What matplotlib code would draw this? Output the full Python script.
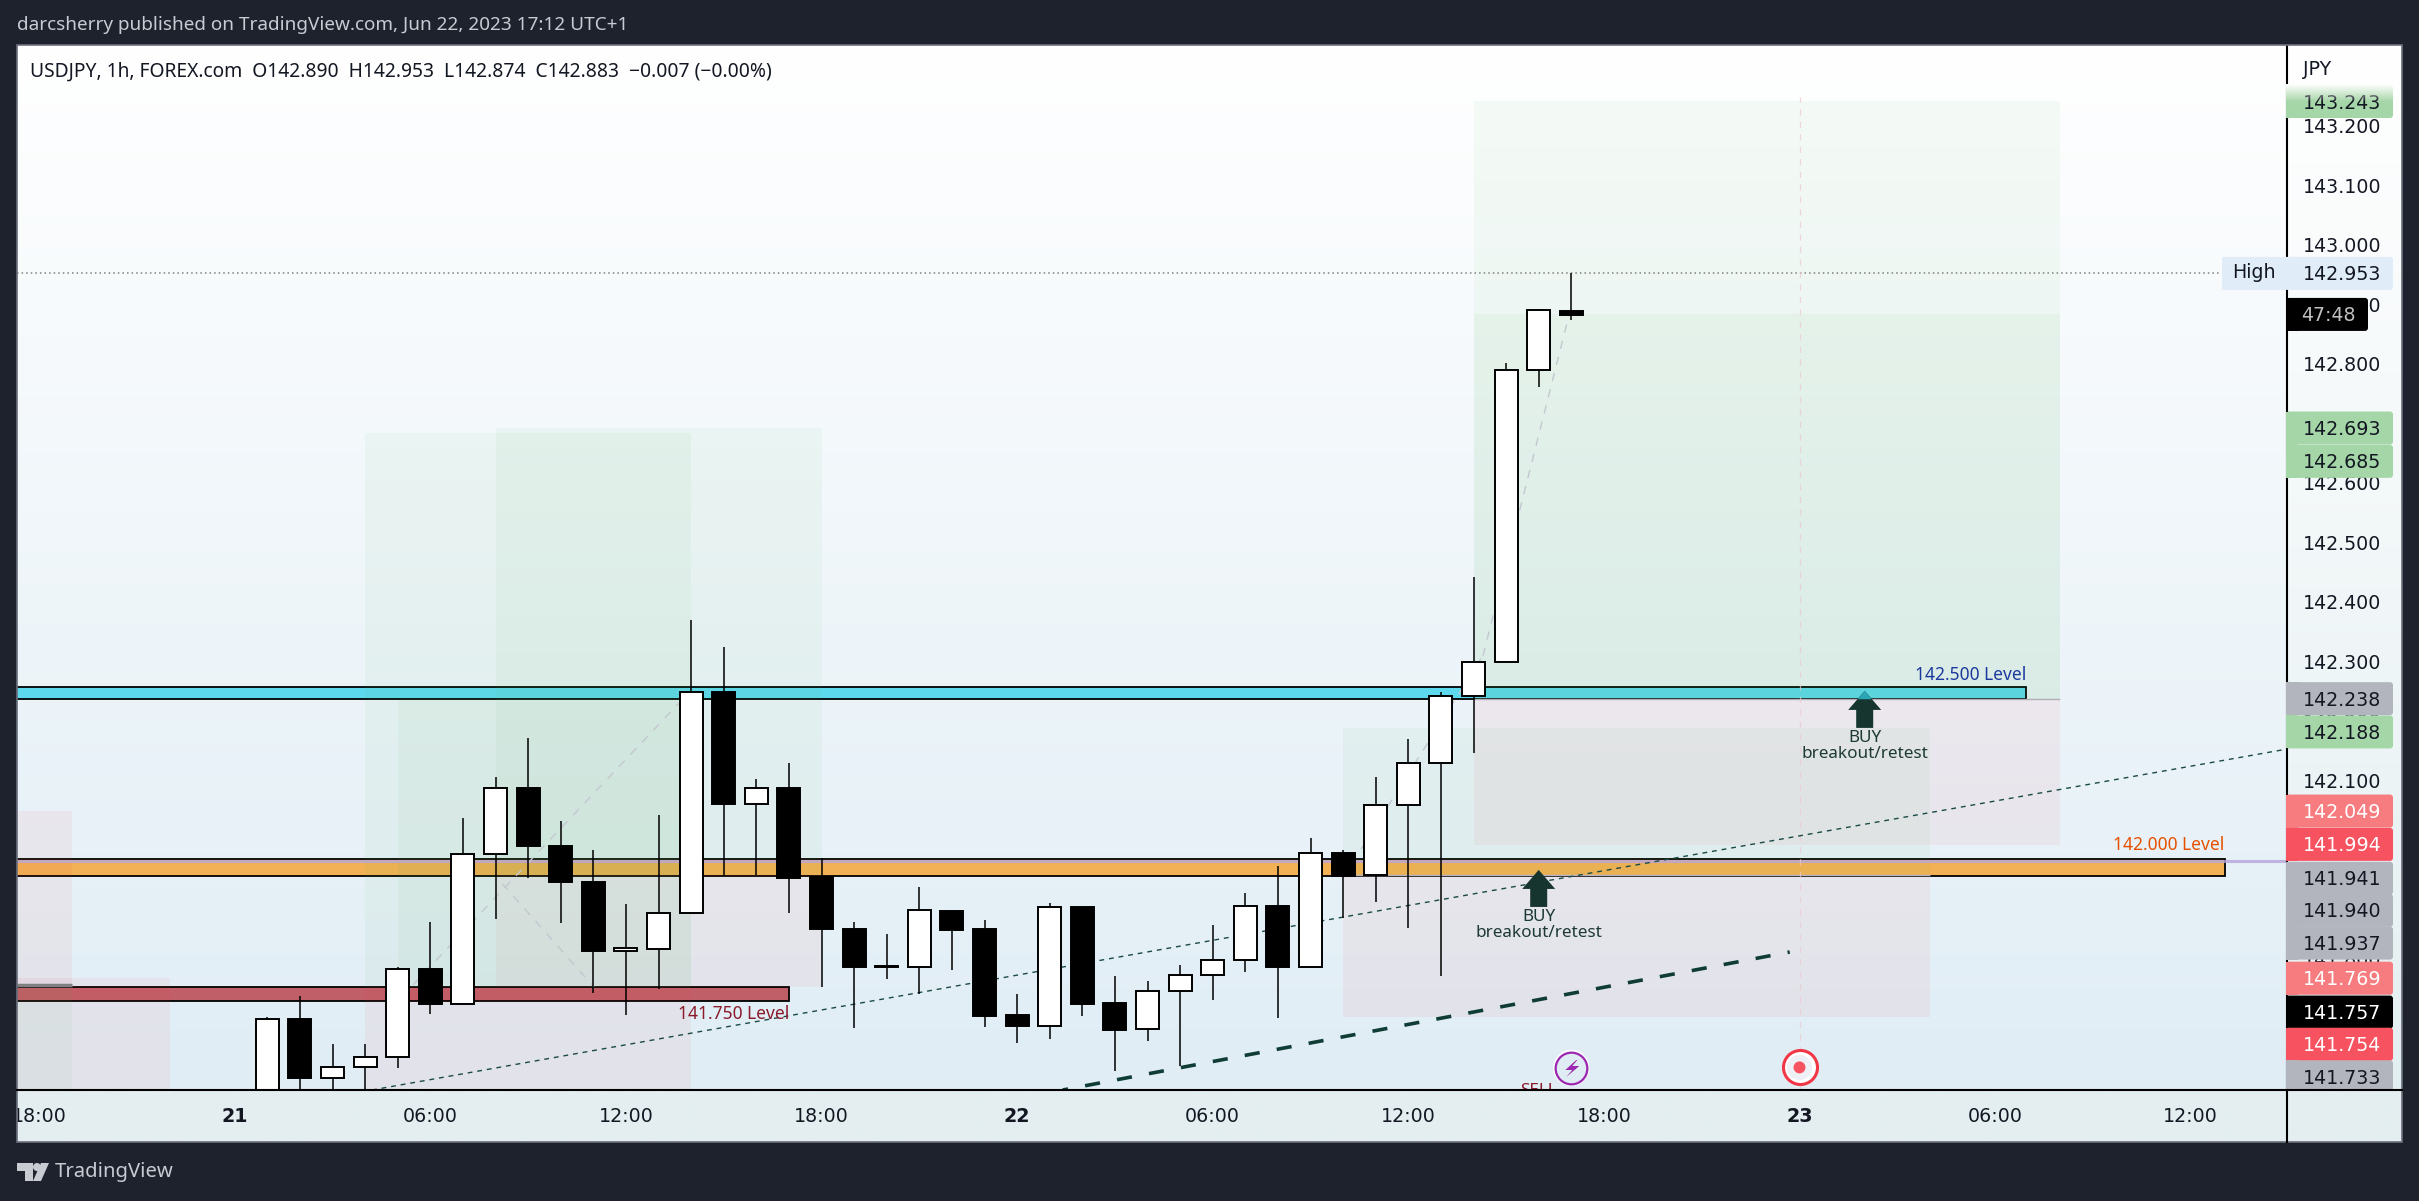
"""
USDJPY 1h chart, TradingView style
"""
import numpy as np
import matplotlib.pyplot as plt
from matplotlib.colors import to_rgb
from matplotlib.patches import Rectangle, Circle, Polygon, FancyBboxPatch

W, H = 2419, 1201
DARK = '#1e222d'
UI_FONT = 'Noto Sans'

# hourly candles, hour 0 = Jun 21 00:00
hours = list(range(1, 42))
opens = [141.546, 141.699, 141.601, 141.619, 141.636, 141.784, 141.725, 141.976, 142.088, 141.991,
         141.929, 141.813, 141.817, 141.878, 142.250, 142.061, 142.088, 141.938, 141.851, 141.788,
         141.786, 141.881, 141.851, 141.706, 141.688, 141.887, 141.726, 141.682, 141.747, 141.774,
         141.798, 141.889, 141.787, 141.978, 141.941, 142.060, 142.129, 142.243, 142.299, 142.791,
         142.890]
highs = [141.703, 141.738, 141.658, 141.658, 141.787, 141.862, 142.038, 142.107, 142.172, 142.032,
         141.983, 141.893, 142.042, 142.371, 142.324, 142.103, 142.130, 141.970, 141.862, 141.843,
         141.921, 141.883, 141.866, 141.741, 141.894, 141.887, 141.771, 141.763, 141.790, 141.857,
         141.911, 141.956, 142.003, 141.983, 142.106, 142.170, 142.249, 142.442, 142.802, 142.893,
         142.953]
lows = [141.502, 141.572, 141.572, 141.572, 141.617, 141.708, 141.725, 141.867, 141.936, 141.860,
        141.743, 141.706, 141.749, 141.878, 141.940, 141.942, 141.877, 141.753, 141.684, 141.767,
        141.742, 141.782, 141.686, 141.659, 141.666, 141.704, 141.612, 141.663, 141.621, 141.731,
        141.779, 141.701, 141.787, 141.869, 141.896, 141.853, 141.772, 142.147, 142.299, 142.762,
        142.874]
closes = [141.699, 141.601, 141.619, 141.636, 141.784, 141.725, 141.976, 142.088, 141.990, 141.929,
          141.813, 141.818, 141.878, 142.250, 142.061, 142.088, 141.937, 141.851, 141.787, 141.786,
          141.882, 141.849, 141.705, 141.688, 141.887, 141.725, 141.681, 141.747, 141.774, 141.798,
          141.889, 141.787, 141.978, 141.940, 142.060, 142.129, 142.243, 142.299, 142.791, 142.891,
          142.883]

time_ticks = [-6, 0, 6, 12, 18, 24, 30, 36, 42, 48, 54, 60]
time_labels = ['18:00', '21', '06:00', '12:00', '18:00', '22', '06:00', '12:00', '18:00', '23', '06:00', '12:00']
day_labels = ['21', '22', '23']

price_ticks = [141.8, 141.9, 142.0, 142.1, 142.2, 142.3, 142.4, 142.5, 142.6, 142.7,
               142.8, 142.9, 143.0, 143.1, 143.2]

# price tags on the axis: text, where the stacked tag sits, colour, text colour
tag_text = ['143.243', '142.693', '142.685', '142.238', '142.188', '142.049', '141.994', '141.941',
            '141.940', '141.937', '141.769', '141.757', '141.754', '141.733']
tag_pos = [143.242, 142.693, 142.637, 142.238, 142.182, 142.049, 141.993, 141.936,
           141.882, 141.827, 141.768, 141.711, 141.657, 141.602]
tag_color = ['#a5d6a7', '#a5d6a7', '#a5d6a7', '#b2b5be', '#a5d6a7', '#f77c80', '#f7525f', '#b2b5be',
             '#b2b5be', '#b2b5be', '#f77c80', '#000000', '#f7525f', '#b2b5be']
tag_txt_color = ['#131722', '#131722', '#131722', '#131722', '#131722', 'white', 'white', '#131722',
                 '#131722', '#131722', 'white', 'white', 'white', '#131722']

# long/short position boxes: t0, t1, top, bottom
green_boxes = [(4, 14, 142.685, 141.753), (8, 18, 142.693, 141.941), (5, 14, 142.238, 141.753),
               (34, 52, 142.188, 141.941), (38, 56, 143.243, 142.238), (38, 56, 142.884, 142.238),
               (-8, -5, 141.757, 141.5)]
red_boxes = [(4, 14, 141.753, 141.4), (8, 18, 141.941, 141.753), (34, 52, 141.941, 141.702),
             (38, 56, 142.238, 141.992), (-8, -5, 142.049, 141.757), (-8, -2, 141.769, 141.5)]

# level bands: end hour, top, bottom, colour, label, label colour
band_end = [54.96, 61.04, 17.0]
band_top = [142.257, 141.968, 141.753]
band_bottom = [142.237, 141.939, 141.730]
band_color = ['#5dd9ee', '#f2b155', '#c05f68']
band_label = ['142.500 Level', '142.000 Level', '141.750 Level']
band_label_color = ['#1c3a9e', '#e65100', '#8b1a2b']
band_label_price = [142.278, 141.992, 141.708]

trend_thin_t = [4.21, 62.93]
trend_thin_p = [141.58, 142.153]
trend_thick_t = [25.4, 47.7]
trend_thick_p = [141.58, 141.812]

zigzag_segments = [([5.47, 13.62], [141.757, 142.23]),
                   ([8.21, 11.02], [141.927, 141.753]),
                   ([34.55, 38.29], [141.985, 142.311]),
                   ([38.29, 40.93], [142.31, 142.883])]

buy_t = [40, 50]
buy_tip = [141.95, 142.251]

YLIM = (141.580, 143.337)
XLIM = (-6.678, 62.954)
PX_T = 32.6      # px per hour
PX_P = 594.8     # px per yen
TXT_SHIFT = 1.5 / PX_P


def add_ax(x0, y0, x1, y1, z=1):
    a = fig.add_axes([x0 / W, 1 - y1 / H, (x1 - x0) / W, (y1 - y0) / H], zorder=z)
    a.set_axis_off()
    return a


def fade(a, top, bottom):
    rgb0 = np.array(to_rgb(top))
    rgb1 = np.array(to_rgb(bottom))
    f = np.linspace(0, 1, 256)[:, None, None]
    a.imshow(rgb0 + (rgb1 - rgb0) * f, extent=[0, 1, 0, 1], aspect='auto', transform=a.transAxes, zorder=0)


fig = plt.figure(figsize=(W / 100, H / 100), dpi=100, facecolor=DARK)

# main pane
ax = add_ax(17, 45, 2287, 1090, 1)
fade(ax, '#ffffff', '#e0edf5')
ax.set_xlim(XLIM)
ax.set_ylim(YLIM)

for t0, t1, top, bot in red_boxes:
    ax.add_patch(Rectangle((t0, bot), t1 - t0, top - bot, fc='#f23645', ec='none', alpha=0.06, zorder=3))
for t0, t1, top, bot in green_boxes:
    ax.add_patch(Rectangle((t0, bot), t1 - t0, top - bot, fc='#4caf50', ec='none', alpha=0.052, zorder=3))

for i in range(3):
    ax.add_patch(Rectangle((XLIM[0] - 1, band_bottom[i]), band_end[i] - XLIM[0] + 1, band_top[i] - band_bottom[i],
                           fc=band_color[i], ec='black', lw=1.3, zorder=2))
    ax.text(band_end[i], band_label_price[i], band_label[i], color=band_label_color[i], family=UI_FONT,
            fontsize=12.5, ha='right', va='center', zorder=6)

ax.hlines(141.965, XLIM[0], XLIM[1], color='#b7a7dc', lw=2.2, alpha=0.8, zorder=3)
ax.hlines(142.238, 38, 56, color='#b2b5be', lw=1, zorder=2)
ax.hlines(141.941, 34, 52, color='#b2b5be', lw=1, zorder=3)
ax.hlines(141.757, XLIM[0], -5, color='#808080', lw=2.5, zorder=3)
ax.hlines(142.953, XLIM[0], 60.9, color='#808080', lw=1.1, linestyles=(0, (1, 2)), zorder=3)
ax.vlines(48, 141.58, 143.25, color='#ecc9d0', lw=0.9, alpha=0.7, linestyles=(0, (5, 5)), zorder=3)

ax.plot(trend_thin_t, trend_thin_p, color='#1a4a45', lw=1.0, ls=(0, (3.5, 3.5)), zorder=4)
ax.plot(trend_thick_t, trend_thick_p, color='#0f3d36', lw=2.6, ls=(2.7, (4.2, 4.8)), zorder=4)
for xs, ys in zigzag_segments:
    ax.plot(xs, ys, color='#c3c7d0', lw=1, ls=(0, (6, 6)), zorder=4)

# arrows
for t, tip in zip(buy_t, buy_tip):
    hw, sw = 16.5 / PX_T, 8.5 / PX_T
    head, stem = 19 / PX_P, 37 / PX_P
    ax.add_patch(Polygon([(t, tip), (t + hw, tip - head), (t + sw, tip - head), (t + sw, tip - stem),
                          (t - sw, tip - stem), (t - sw, tip - head), (t - hw, tip - head)],
                         fc='#16352f', ec='none', zorder=7))
    ax.text(t, tip - 47 / PX_P, 'BUY', color='#1d3a34', family=UI_FONT, fontsize=12.3, ha='center', va='center', zorder=7)
    ax.text(t, tip - 63 / PX_P, 'breakout/retest', color='#1d3a34', family=UI_FONT, fontsize=12.3,
            ha='center', va='center', zorder=7)
ax.add_patch(Polygon([(50, 142.251), (50 + 7 / PX_T, 142.237), (50 - 7 / PX_T, 142.237)], fc='#2aa5b5', ec='none', zorder=8))

# candles
o, h, l, c = map(np.array, (opens, highs, lows, closes))
up = c >= o
hrs = np.array(hours)
ax.vlines(hrs, l, h, color='black', lw=1.1, zorder=5)
ax.bar(hrs, np.abs(c - o), bottom=np.minimum(o, c), width=0.71,
       color=np.where(up, 'white', 'black').tolist(), edgecolor='black', linewidth=1.4, zorder=6)

ax.text(40, 141.578, 'SELL', color='#8b1a2b', family=UI_FONT, fontsize=12.3, ha='center', va='center',
        zorder=7, clip_on=True)

# alert icons
ax.scatter([41], [141.617], s=680, fc='white', ec='none', zorder=8)
ax.scatter([41], [141.617], s=520, fc='#dfecf4', ec='#9c27b0', lw=1.6, zorder=8)
bolt = [(5, -8), (-6, 2), (1, 2), (-5, 9), (8, -2), (1, -2), (6, -8)]
ax.add_patch(Polygon([(41 + dx / PX_T, 141.617 - dy / PX_P) for dx, dy in bolt], fc='#9c27b0', ec='none', zorder=9))
ax.scatter([48], [141.618], s=600, fc='white', ec='#f23645', lw=2.2, zorder=8)
ax.scatter([48], [141.618], s=330, fc='#eff0f6', ec='none', zorder=8)
ax.scatter([48], [141.618], s=74, fc='#f7525f', ec='none', zorder=9)

ax.set_xlim(XLIM)
ax.set_ylim(YLIM)

# time axis
ax_t = add_ax(17, 1090, 2402, 1142, 2)
fade(ax_t, '#e4eef1', '#e4eef0')
ax_t.set_xlim(XLIM[0], 66.48)
ax_t.set_ylim(0, 1)
for t, lab in zip(time_ticks, time_labels):
    ax_t.text(t, 0.5, lab, fontsize=13.7, color='#131722', ha='center', va='center', clip_on=True,
              fontweight='bold' if lab in day_labels else 'normal')

# price axis
ax_bg = add_ax(2287, 45, 2402, 1090, 2)
fade(ax_bg, '#ffffff', '#e4eff1')

ax_p = add_ax(2222, 45, 2402, 1090, 3)
ax_p.axvline(2287, color='black', lw=1.5, zorder=1)
for p in price_ticks:
    ax_p.text(2303, p - TXT_SHIFT, f'{p:.3f}', fontsize=13.7, color='#131722', ha='left', va='center', zorder=2, clip_on=True)
ax_p.text(2303, 143.296, 'JPY', fontsize=13.7, color='#131722', ha='left', va='center', zorder=2)

tag_h = 33 / PX_P


def tag(x, pos, width, col, z=3):
    # square on the left, small round corners on the right
    ax_p.add_patch(FancyBboxPatch((x, pos - tag_h / 2), width, tag_h, boxstyle='round,pad=0,rounding_size=3',
                                  mutation_aspect=1 / PX_P, fc=col, ec='none', zorder=z))
    ax_p.add_patch(Rectangle((x, pos - tag_h / 2), 12, tag_h, fc=col, ec='none', zorder=z))


for txt, pos, col, tc in zip(tag_text, tag_pos, tag_color, tag_txt_color):
    tag(2286, pos, 107, col)
    ax_p.text(2303, pos - TXT_SHIFT, txt, fontsize=13.7, color=tc, ha='left', va='center', zorder=4, clip_on=True)

tag(2222, 142.953, 171, '#e1ecf9')
ax_p.text(2232, 142.955, 'High', fontsize=13.7, color='#131722', ha='left', va='center', zorder=4)
ax_p.text(2303, 142.953 - TXT_SHIFT, '142.953', fontsize=13.7, color='#131722', ha='left', va='center', zorder=4)
tag(2287, 142.884, 81, 'black', 5)
ax_p.text(2328, 142.884 - TXT_SHIFT, '47:48', fontsize=13.7, color='#c0c0c0', ha='center', va='center', zorder=6)

# top of the 143.243 tag fades out
top_fade = np.ones((64, 1, 4))
top_fade[:, 0, 3] = np.linspace(1, 0, 64)
ax_p.imshow(top_fade, extent=[2286, 2393, 143.242, 143.242 + tag_h / 2 + 1 / PX_P], aspect='auto', zorder=5)
ax_p.set_xlim(2222, 2402)
ax_p.set_ylim(YLIM)

# chrome
over = add_ax(0, 0, W, H, 10)
over.set_xlim(0, W)
over.set_ylim(H, 0)
over.add_patch(Rectangle((17, 45), 2385, 1097, fc='none', ec='#6a6f7c', lw=1.2))
over.plot([17, 2402], [1090, 1090], color='black', lw=1.5)
over.plot([2287, 2287], [1090, 1142], color='black', lw=1.5)
over.text(17, 25, 'darcsherry published on TradingView.com, Jun 22, 2023 17:12 UTC+1', color='#c8cbd2',
          family=UI_FONT, fontsize=13.65, ha='left', va='center')
over.text(30, 72, 'USDJPY, 1h, FOREX.com  O142.890  H142.953  L142.874  C142.883  \u22120.007 (\u22120.00%)',
          color='#131722', family=UI_FONT, fontsize=13.85, ha='left', va='center')
over.text(55, 1172, 'TradingView', color='#c8cbd2', family=UI_FONT, fontsize=14.6, ha='left', va='center')
over.add_patch(Polygon([(17, 1163), (33, 1163), (33, 1181), (25, 1181), (25, 1171), (17, 1171)], fc='#c8cbd2', ec='none'))
over.add_patch(Circle((37, 1167), 4, fc='#c8cbd2', ec='none'))
over.add_patch(Polygon([(41, 1163), (49, 1163), (41, 1181), (33, 1181)], fc='#c8cbd2', ec='none'))

plt.savefig('out.png', dpi=100, facecolor=DARK)
